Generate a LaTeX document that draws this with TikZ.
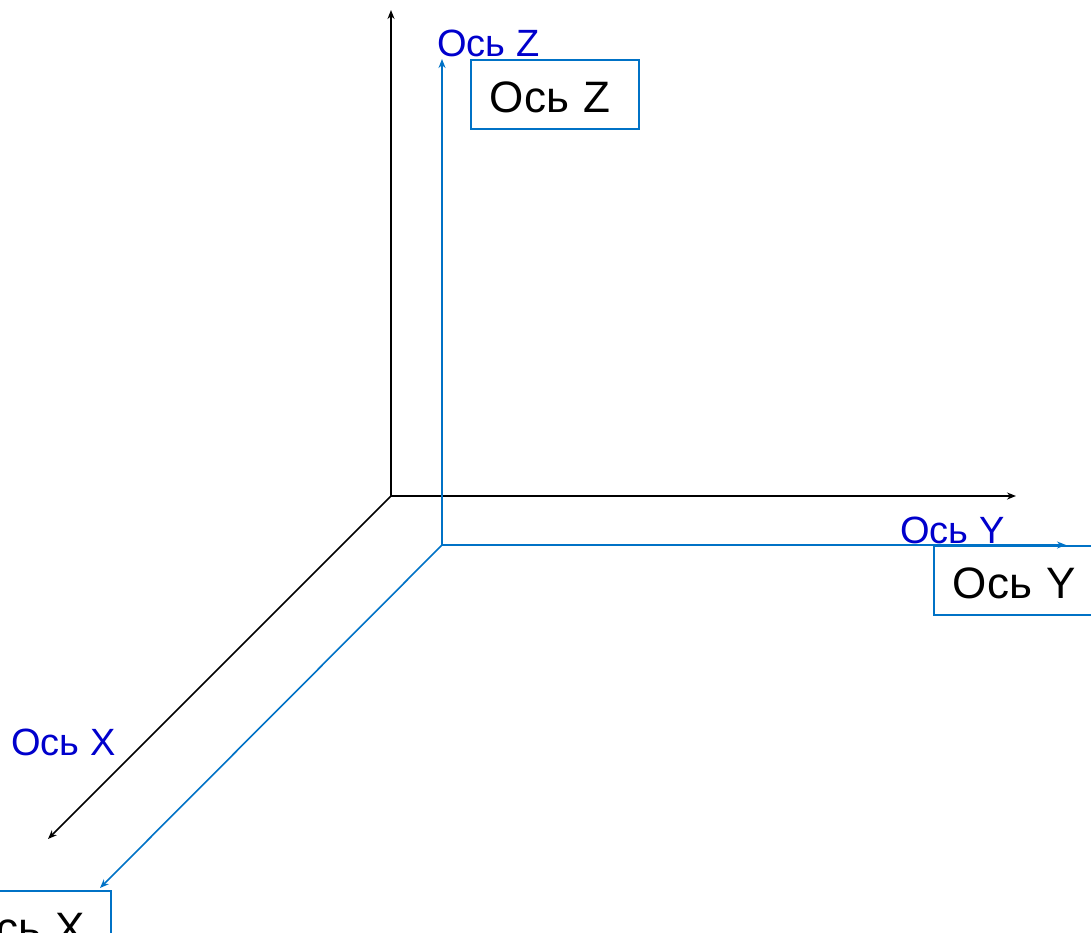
\documentclass[tikz,border=0pt]{standalone}
\usepackage{fontspec}
\setmainfont{Liberation Sans}
\usepackage{tikz}
\usetikzlibrary{arrows.meta,positioning}
\definecolor{axisblue}{RGB}{0,114,198}
\definecolor{labelblue}{RGB}{0,0,204}
\tikzstyle{axis} = [draw, line width=1.6pt, color=black, -{Stealth[length=9pt,width=7pt]}]
\tikzstyle{blueaxis} = [axis, color=axisblue]
\tikzstyle{axislabel} = [text=labelblue, font=\fontsize{38}{40}\selectfont, inner sep=0pt, anchor=base west]
\tikzstyle{axisbox} = [draw=axisblue, line width=1.6pt, text=black, font=\fontsize{44}{46}\selectfont, text width=130pt, align=left, inner xsep=19pt, inner ysep=4pt, text height=49pt, text depth=12pt, anchor=north west]
\newcommand{\axislabel}[2]{node (l#1) [axislabel] {#2}}
\newcommand{\axisbox}[2]{node (b#1) [axisbox] {#2}}

\begin{document}
\begin{tikzpicture}[x=1pt,y=-1pt]
\useasboundingbox (0,0) rectangle (1091,932);
% black axes
\path (391,496) coordinate (o1);
\path (o1)+(0,-486) coordinate (z1);
\path (o1)+(625,0) coordinate (y1);
\path (o1)+(-343,343) coordinate (x1);
\path [axis] (o1) -- (z1);
\path [axis] (o1) -- (y1);
\path [axis] (o1) -- (x1);

% blue axes
\path (442,545) coordinate (o2);
\path (o2)+(0,-486) coordinate (z2);
\path (o2)+(624,0) coordinate (y2);
\path (o2)+(-342,343) coordinate (x2);
\path [blueaxis] (o2) -- (z2);
\path [blueaxis] (o2) -- (y2);
\path [blueaxis] (o2) -- (x2);

% labels
\path (437,56) \axislabel{z}{Ось Z};
\path (900,543) \axislabel{y}{Ось Y};
\path (11,755) \axislabel{x}{Ось X};

% boxes
\path (470,59) \axisbox{z}{Ось Z};
\path (933,545) \axisbox{y}{Ось Y};
\path (-58,890) \axisbox{x}{Ось X};
\end{tikzpicture}
\end{document}
